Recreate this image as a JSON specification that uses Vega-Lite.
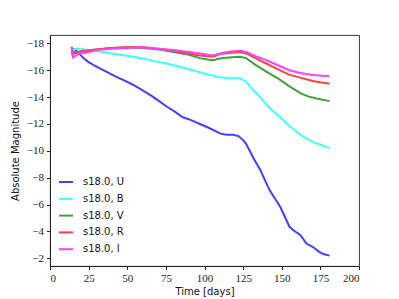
{
  "$schema": "https://vega.github.io/schema/vega-lite/v6.json",
  "width": 309,
  "height": 231,
  "autosize": "none",
  "padding": {"left": 50, "top": 35, "right": 40, "bottom": 33},
  "background": "white",
  "view": {"stroke": "#222", "strokeWidth": 0.9},
  "datasets": {
    "U": [
      {"t":15,"m":-17.6},{"t":18,"m":-17.35},{"t":21.6,"m":-16.9},{"t":25,"m":-16.6},{"t":28,"m":-16.4},{"t":32,"m":-16.15},{"t":37,"m":-15.85},{"t":43,"m":-15.5},{"t":48,"m":-15.25},{"t":54,"m":-14.9},{"t":60,"m":-14.5},{"t":65,"m":-14.15},{"t":70,"m":-13.75},{"t":75.5,"m":-13.3},{"t":81,"m":-12.9},{"t":86,"m":-12.5},{"t":91,"m":-12.3},{"t":97,"m":-12.0},{"t":103,"m":-11.7},{"t":110,"m":-11.3},{"t":114,"m":-11.2},{"t":118.5,"m":-11.2},{"t":122,"m":-11.1},{"t":125,"m":-10.8},{"t":127,"m":-10.5},{"t":129,"m":-10.06},{"t":132,"m":-9.4},{"t":136,"m":-8.6},{"t":142,"m":-7.1},{"t":149,"m":-5.84},{"t":155,"m":-4.35},{"t":158,"m":-4.05},{"t":162,"m":-3.74},{"t":166,"m":-3.1},{"t":170.5,"m":-2.82},{"t":174,"m":-2.5},{"t":177,"m":-2.32},{"t":181,"m":-2.2}
    ],
    "B": [
      {"t":15,"m":-17.5},{"t":17,"m":-17.6},{"t":19.4,"m":-17.6},{"t":25,"m":-17.5},{"t":32,"m":-17.4},{"t":40,"m":-17.25},{"t":54,"m":-17.0},{"t":65,"m":-16.75},{"t":75.5,"m":-16.5},{"t":86,"m":-16.2},{"t":97,"m":-15.85},{"t":105,"m":-15.6},{"t":110,"m":-15.47},{"t":117,"m":-15.4},{"t":123,"m":-15.4},{"t":127,"m":-15.15},{"t":131,"m":-14.6},{"t":136,"m":-14.0},{"t":142,"m":-13.2},{"t":149,"m":-12.5},{"t":155,"m":-11.85},{"t":162,"m":-11.2},{"t":167,"m":-10.85},{"t":172.6,"m":-10.56},{"t":181,"m":-10.2}
    ],
    "V": [
      {"t":14.5,"m":-17.4},{"t":17,"m":-17.3},{"t":20,"m":-17.4},{"t":30,"m":-17.55},{"t":40,"m":-17.65},{"t":50,"m":-17.7},{"t":60,"m":-17.65},{"t":70,"m":-17.55},{"t":80,"m":-17.35},{"t":90,"m":-17.15},{"t":97,"m":-16.9},{"t":102,"m":-16.8},{"t":105.6,"m":-16.75},{"t":109,"m":-16.85},{"t":112,"m":-16.9},{"t":118,"m":-16.97},{"t":123,"m":-17.0},{"t":127,"m":-16.9},{"t":133,"m":-16.4},{"t":140,"m":-15.9},{"t":148,"m":-15.35},{"t":155,"m":-14.8},{"t":162,"m":-14.3},{"t":167,"m":-14.05},{"t":172.6,"m":-13.9},{"t":181,"m":-13.7}
    ],
    "R": [
      {"t":14.0,"m":-17.75},{"t":14.4,"m":-17.2},{"t":17,"m":-17.3},{"t":19.4,"m":-17.4},{"t":30,"m":-17.55},{"t":40,"m":-17.65},{"t":50,"m":-17.7},{"t":60,"m":-17.7},{"t":70,"m":-17.6},{"t":80,"m":-17.45},{"t":90,"m":-17.25},{"t":97,"m":-17.1},{"t":105.6,"m":-17.0},{"t":110,"m":-17.2},{"t":117,"m":-17.3},{"t":123,"m":-17.35},{"t":127,"m":-17.25},{"t":133,"m":-16.9},{"t":140,"m":-16.5},{"t":148,"m":-16.05},{"t":155,"m":-15.65},{"t":162,"m":-15.45},{"t":170,"m":-15.2},{"t":181,"m":-15.0}
    ],
    "I": [
      {"t":14.0,"m":-17.75},{"t":15,"m":-16.95},{"t":17,"m":-17.1},{"t":19.4,"m":-17.25},{"t":25,"m":-17.35},{"t":30,"m":-17.5},{"t":40,"m":-17.6},{"t":50,"m":-17.65},{"t":60,"m":-17.7},{"t":70,"m":-17.6},{"t":80,"m":-17.5},{"t":90,"m":-17.35},{"t":97,"m":-17.25},{"t":105.6,"m":-17.1},{"t":110,"m":-17.25},{"t":117,"m":-17.4},{"t":123,"m":-17.45},{"t":127,"m":-17.35},{"t":133,"m":-17.05},{"t":140,"m":-16.75},{"t":148,"m":-16.35},{"t":155,"m":-16.0},{"t":162,"m":-15.8},{"t":170,"m":-15.65},{"t":181,"m":-15.55}
    ]
  },
  "encoding": {
    "x": {
      "field": "t", "type": "quantitative",
      "scale": {"domain": [0, 200], "nice": false, "zero": false},
      "axis": {
        "title": "Time [days]", "values": [0,25,50,75,100,125,150,175,200],
        "grid": false, "tickSize": 3.5, "tickColor": "#222", "domainColor": "#222",
        "labelFont": "Liberation Serif", "labelFontSize": 11, "labelColor": "#222", "labelPadding": 3,
        "titleFont": "DejaVu Sans", "titleFontSize": 10, "titleFontWeight": "normal", "titleColor": "#111", "titlePadding": 3
      }
    },
    "y": {
      "field": "m", "type": "quantitative",
      "scale": {"domain": [-18.62, -1.43], "reverse": true, "nice": false, "zero": false},
      "axis": {
        "title": "Absolute Magnitude", "values": [-18,-16,-14,-12,-10,-8,-6,-4,-2],
        "labelExpr": "replace(datum.label, '-', '−')",
        "grid": false, "tickSize": 3.5, "tickColor": "#222", "domainColor": "#222",
        "labelFont": "Liberation Serif", "labelFontSize": 11, "labelColor": "#222", "labelPadding": 3,
        "titleFont": "DejaVu Sans", "titleFontSize": 10, "titleFontWeight": "normal", "titleColor": "#111", "titlePadding": 6
      }
    },
    "color": {
      "field": "s", "type": "nominal",
      "scale": {
        "domain": ["s18.0, U","s18.0, B","s18.0, V","s18.0, R","s18.0, I"],
        "range": ["#4040ff","#40ffff","#40a040","#ff4040","#ff40ff"]
      },
      "legend": {
        "title": null, "orient": "none", "legendX": 8, "legendY": 139,
        "symbolType": "stroke", "symbolSize": 196, "symbolStrokeWidth": 2,
        "labelFont": "DejaVu Sans", "labelFontSize": 10, "labelColor": "#111",
        "labelOffset": 9, "rowPadding": 3.8
      }
    }
  },
  "layer": [
    {"data": {"name": "U"}, "transform": [{"calculate": "'s18.0, U'", "as": "s"}], "mark": {"type": "line", "strokeWidth": 2}},
    {"data": {"name": "B"}, "transform": [{"calculate": "'s18.0, B'", "as": "s"}], "mark": {"type": "line", "strokeWidth": 2}},
    {"data": {"name": "V"}, "transform": [{"calculate": "'s18.0, V'", "as": "s"}], "mark": {"type": "line", "strokeWidth": 2}},
    {"data": {"name": "R"}, "transform": [{"calculate": "'s18.0, R'", "as": "s"}], "mark": {"type": "line", "strokeWidth": 2}},
    {"data": {"name": "I"}, "transform": [{"calculate": "'s18.0, I'", "as": "s"}], "mark": {"type": "line", "strokeWidth": 2}}
  ]
}
